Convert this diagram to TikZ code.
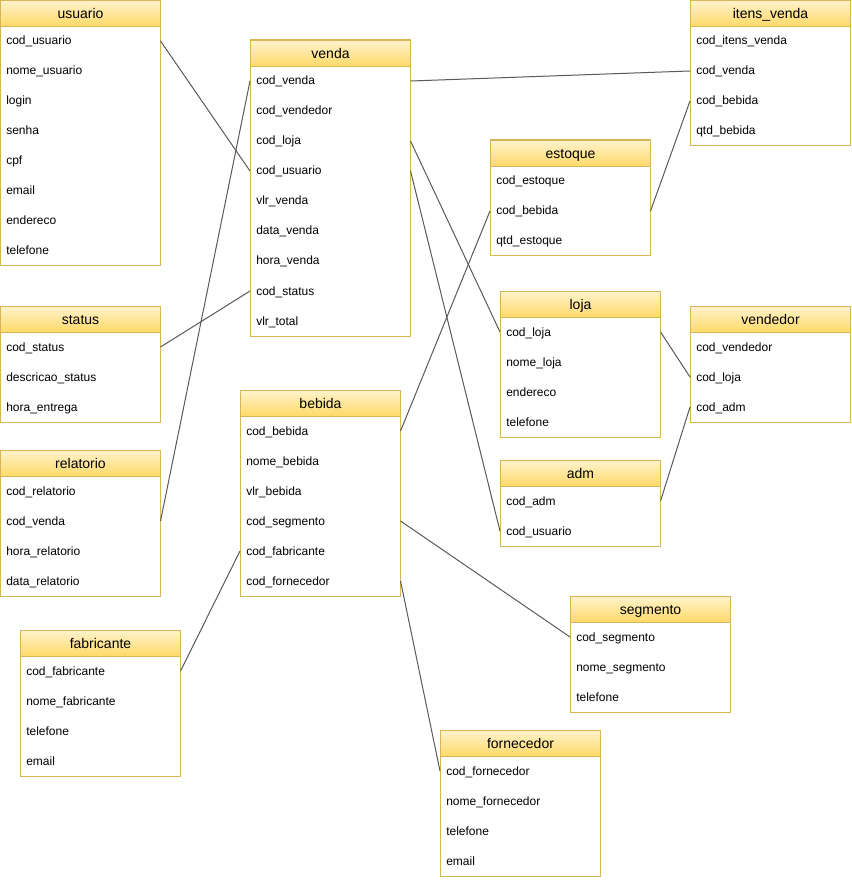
\documentclass[tikz,border=0pt]{standalone}
\usepackage{fontspec}
\setmainfont{Liberation Sans}
\usetikzlibrary{calc}
\definecolor{hdrtop}{HTML}{FFF2CC}
\definecolor{hdrbot}{HTML}{FFD966}
\definecolor{hdrline}{HTML}{D6B656}
\definecolor{linkgray}{HTML}{595959}

% one entity: name, x, y (top left, px), number of fields, title, fields
\newcommand{\ertable}[6]{%
  \path[draw=hdrline,fill=white,line width=.75pt] (#2,#3) rectangle ({#2+160},{#3+26+30*#4});
  \node[hdr,anchor=north west] (#1) at (#2,#3) {#5};
  \foreach \fname [count=\fidx] in {#6}
    \node[fld,anchor=west] (#1-\fidx) at (#2,{#3+11+30*\fidx}) {\fname};
}

\begin{document}
\begin{tikzpicture}[x=0.75pt,y=-0.75pt,
  hdr/.style={draw=hdrline,line width=.75pt,top color=hdrtop,bottom color=hdrbot,
    minimum width=120pt,minimum height=19.5pt,inner sep=0pt,
    text height=9.5pt,text depth=1.5pt,font=\fontsize{10.5}{12}\selectfont},
  fld/.style={text width=111pt,inner xsep=4.5pt,inner ysep=0pt,minimum height=22.5pt,
    text height=8pt,text depth=2pt,align=left,font=\fontsize{9}{11}\selectfont},
  link/.style={draw=linkgray,line width=.75pt}]
\useasboundingbox (0,0) rectangle (851,880);
\ertable{usuario}{0}{0}{8}{usuario}{cod\_usuario,nome\_usuario,login,senha,cpf,email,endereco,telefone}
\ertable{venda}{250}{40}{9}{venda}{cod\_venda,cod\_vendedor,cod\_loja,cod\_usuario,vlr\_venda,data\_venda,hora\_venda,cod\_status,vlr\_total}
\ertable{itens}{690}{0}{4}{itens\_venda}{cod\_itens\_venda,cod\_venda,cod\_bebida,qtd\_bebida}
\ertable{estoque}{490}{140}{3}{estoque}{cod\_estoque,cod\_bebida,qtd\_estoque}
\ertable{loja}{500}{291}{4}{loja}{cod\_loja,nome\_loja,endereco,telefone}
\ertable{vendedor}{690}{306}{3}{vendedor}{cod\_vendedor,cod\_loja,cod\_adm}
\ertable{status}{0}{306}{3}{status}{cod\_status,descricao\_status,hora\_entrega}
\ertable{bebida}{240}{390}{6}{bebida}{cod\_bebida,nome\_bebida,vlr\_bebida,cod\_segmento,cod\_fabricante,cod\_fornecedor}
\ertable{relatorio}{0}{450}{4}{relatorio}{cod\_relatorio,cod\_venda,hora\_relatorio,data\_relatorio}
\ertable{adm}{500}{460}{2}{adm}{cod\_adm,cod\_usuario}
\ertable{segmento}{570}{596}{3}{segmento}{cod\_segmento,nome\_segmento,telefone}
\ertable{fabricante}{20}{630}{4}{fabricante}{cod\_fabricante,nome\_fabricante,telefone,email}
\ertable{fornecedor}{440}{730}{4}{fornecedor}{cod\_fornecedor,nome\_fornecedor,telefone,email}
% relationships
\draw[link] (usuario-1.east) -- (venda-4.west);
\draw[link] (venda-1.west) -- (relatorio-2.east);
\draw[link] (status-1.east) -- (venda-8.west);
\draw[link] (venda-1.east) -- (itens-2.west);
\draw[link] (itens-3.west) -- (estoque-2.east);
\draw[link] (estoque-2.west) -- (bebida-1.east);
\draw[link] (venda-3.east) -- (loja-1.west);
\draw[link] (loja-1.east) -- (vendedor-2.west);
\draw[link] (vendedor-3.west) -- (adm-1.east);
\draw[link] (venda-4.east) -- (adm-2.west);
\draw[link] (bebida-4.east) -- (segmento-1.west);
\draw[link] (bebida-6.east) -- (fornecedor-1.west);
\draw[link] (bebida-5.west) -- (fabricante-1.east);
\end{tikzpicture}
\end{document}
